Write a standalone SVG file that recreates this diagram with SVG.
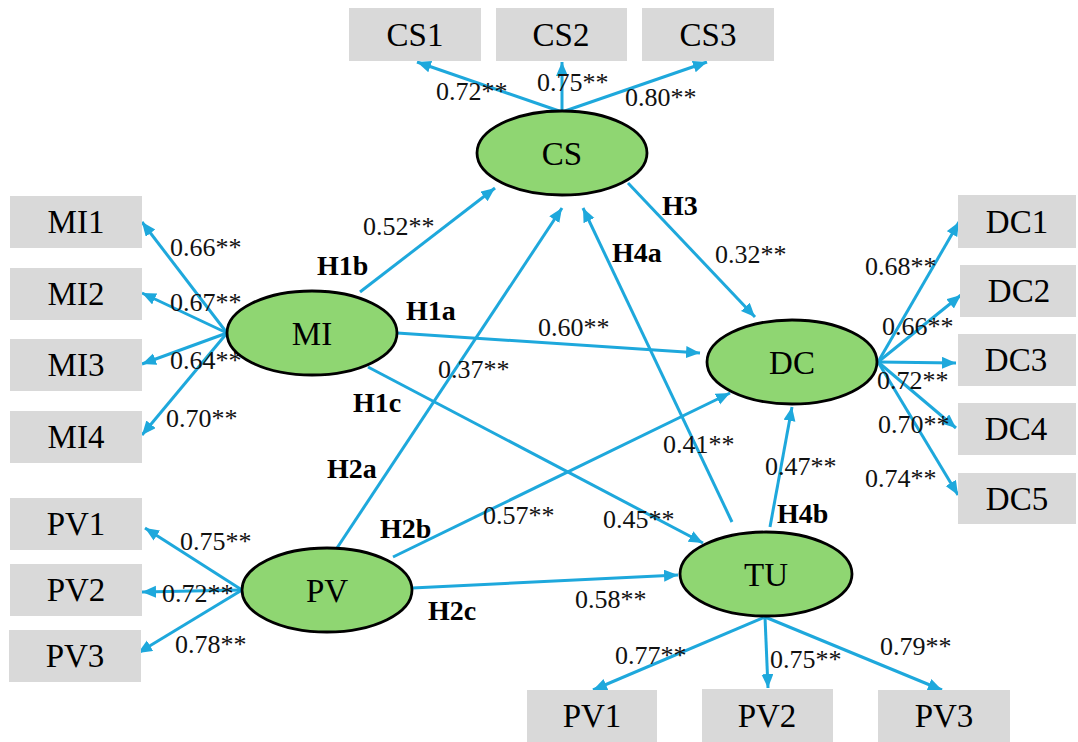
<svg xmlns="http://www.w3.org/2000/svg" width="1078" height="742" viewBox="0 0 1078 742">
<style>
.box{fill:#d9d9d9}
.lv{fill:#8fd672;stroke:#000;stroke-width:2.8}
.bt{font-family:"Liberation Serif","Times New Roman",serif;font-size:33px;fill:#000;text-anchor:middle}
.num{font-family:"Liberation Serif","Times New Roman",serif;font-size:26px;fill:#111}
.h{font-family:"Liberation Serif","Times New Roman",serif;font-size:28px;font-weight:bold;fill:#000}
.c{fill:none;stroke:#1ea8dc;stroke-width:3;marker-end:url(#ah)}
</style>
<defs>
<marker id="ah" markerUnits="userSpaceOnUse" markerWidth="16" markerHeight="14" refX="14" refY="6" orient="auto">
<path d="M0,0 L14,6 L0,12 z" fill="#1ea8dc"/>
</marker>
</defs>
<rect width="1078" height="742" fill="#fff"/>
<g id="connectors">
<path class="c" d="M562,112 L417,62"/>
<path class="c" d="M562,112 L562,62"/>
<path class="c" d="M562,112 L707,62"/>
<path class="c" d="M227,333 L142,222"/>
<path class="c" d="M227,333 L142,293"/>
<path class="c" d="M227,333 L142,364"/>
<path class="c" d="M227,333 L142,435"/>
<path class="c" d="M242,590 L145,528"/>
<path class="c" d="M242,590 L142,592"/>
<path class="c" d="M242,590 L138,653"/>
<path class="c" d="M878,362 L959,222"/>
<path class="c" d="M878,362 L961,295"/>
<path class="c" d="M878,362 L956,363"/>
<path class="c" d="M878,362 L956,428"/>
<path class="c" d="M878,362 L958,495"/>
<path class="c" d="M765,617 L593,690"/>
<path class="c" d="M765,617 L768,688"/>
<path class="c" d="M765,617 L942,690"/>
<path class="c" d="M360,292 L495,188"/>
<path class="c" d="M397,333 L700,353"/>
<path class="c" d="M368,367 L703,543"/>
<path class="c" d="M628,183 L755,317"/>
<path class="c" d="M337,548 L562,208"/>
<path class="c" d="M393,557 L730,393"/>
<path class="c" d="M412,588 L678,575"/>
<path class="c" d="M732,522 L583,208"/>
<path class="c" d="M770,527 L792,407"/>
<g class="num">
<text x="436" y="100">0.72**</text>
<text x="537" y="91">0.75**</text>
<text x="625" y="106">0.80**</text>
<text x="170" y="256">0.66**</text>
<text x="170" y="311">0.67**</text>
<text x="170" y="369">0.64**</text>
<text x="166" y="427">0.70**</text>
<text x="180" y="550">0.75**</text>
<text x="162" y="602">0.72**</text>
<text x="175" y="653">0.78**</text>
<text x="865" y="275">0.68**</text>
<text x="882" y="335">0.66**</text>
<text x="877" y="389">0.72**</text>
<text x="878" y="433">0.70**</text>
<text x="865" y="487">0.74**</text>
<text x="363" y="235">0.52**</text>
<text x="538" y="336">0.60**</text>
<text x="438" y="378">0.37**</text>
<text x="715" y="263">0.32**</text>
<text x="663" y="453">0.41**</text>
<text x="765" y="475">0.47**</text>
<text x="483" y="524">0.57**</text>
<text x="603" y="528">0.45**</text>
<text x="575" y="608">0.58**</text>
<text x="615" y="664">0.77**</text>
<text x="770" y="668">0.75**</text>
<text x="880" y="655">0.79**</text>
</g>
<g class="h">
<text x="317" y="275">H1b</text>
<text x="406" y="320">H1a</text>
<text x="353" y="412">H1c</text>
<text x="327" y="478">H2a</text>
<text x="380" y="538">H2b</text>
<text x="428" y="620">H2c</text>
<text x="662" y="215">H3</text>
<text x="612" y="262">H4a</text>
<text x="777" y="523">H4b</text>
</g>
</g>
<g id="CS"><ellipse class="lv" cx="562" cy="153" rx="85" ry="42"/><text class="bt" x="562" y="165">CS</text></g>
<g id="MI"><ellipse class="lv" cx="312" cy="333" rx="85" ry="42"/><text class="bt" x="312" y="345">MI</text></g>
<g id="PV"><ellipse class="lv" cx="327" cy="590" rx="85" ry="42"/><text class="bt" x="327" y="602">PV</text></g>
<g id="DC"><ellipse class="lv" cx="792" cy="362" rx="85" ry="42"/><text class="bt" x="792" y="374">DC</text></g>
<g id="TU"><ellipse class="lv" cx="766" cy="574" rx="86" ry="42"/><text class="bt" x="766" y="586">TU</text></g>
<g id="CS1"><rect class="box" x="349" y="8" width="132" height="53"/><text class="bt" x="415" y="46">CS1</text></g>
<g id="CS2"><rect class="box" x="496" y="8" width="131" height="53"/><text class="bt" x="561" y="46">CS2</text></g>
<g id="CS3"><rect class="box" x="642" y="8" width="132" height="53"/><text class="bt" x="708" y="46">CS3</text></g>
<g id="MI1"><rect class="box" x="10" y="196" width="132" height="52"/><text class="bt" x="76" y="233">MI1</text></g>
<g id="MI2"><rect class="box" x="10" y="268" width="132" height="52"/><text class="bt" x="76" y="305">MI2</text></g>
<g id="MI3"><rect class="box" x="10" y="339" width="132" height="52"/><text class="bt" x="76" y="376">MI3</text></g>
<g id="MI4"><rect class="box" x="10" y="411" width="132" height="52"/><text class="bt" x="76" y="448">MI4</text></g>
<g id="PV1L"><rect class="box" x="10" y="498" width="132" height="52"/><text class="bt" x="76" y="535">PV1</text></g>
<g id="PV2L"><rect class="box" x="10" y="564" width="132" height="52"/><text class="bt" x="76" y="601">PV2</text></g>
<g id="PV3L"><rect class="box" x="9" y="630" width="132" height="52"/><text class="bt" x="75" y="667">PV3</text></g>
<g id="DC1"><rect class="box" x="958" y="195" width="118" height="53"/><text class="bt" x="1017" y="233">DC1</text></g>
<g id="DC2"><rect class="box" x="960" y="265" width="116" height="52"/><text class="bt" x="1019" y="302">DC2</text></g>
<g id="DC3"><rect class="box" x="958" y="334" width="118" height="52"/><text class="bt" x="1016" y="371">DC3</text></g>
<g id="DC4"><rect class="box" x="958" y="403" width="118" height="52"/><text class="bt" x="1016" y="440">DC4</text></g>
<g id="DC5"><rect class="box" x="958" y="473" width="118" height="51"/><text class="bt" x="1017" y="510">DC5</text></g>
<g id="PV1B"><rect class="box" x="527" y="690" width="130" height="52"/><text class="bt" x="592" y="727">PV1</text></g>
<g id="PV2B"><rect class="box" x="702" y="689" width="131" height="53"/><text class="bt" x="767" y="727">PV2</text></g>
<g id="PV3B"><rect class="box" x="878" y="690" width="132" height="52"/><text class="bt" x="944" y="727">PV3</text></g>
</svg>
